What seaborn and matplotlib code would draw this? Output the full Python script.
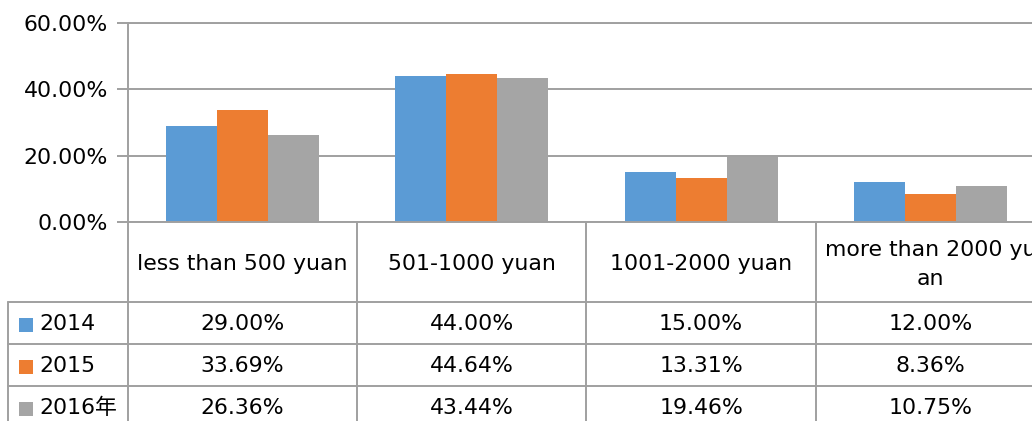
import matplotlib
matplotlib.use("Agg")
import matplotlib.pyplot as plt
import seaborn as sns
import pandas as pd

# Spending brackets, yearly shares (%)
categories = ["less than 500 yuan", "501-1000 yuan", "1001-2000 yuan", "more than 2000 yuan"]
header_labels = ["less than 500 yuan", "501-1000 yuan", "1001-2000 yuan", "more than 2000 yu\nan"]
series = ["2014", "2015", "2016年"]
v2014 = [29.00, 44.00, 15.00, 12.00]
v2015 = [33.69, 44.64, 13.31, 8.36]
v2016 = [26.36, 43.44, 19.46, 10.75]
yticks = [0, 20, 40, 60]
colors = ["#5B9BD5", "#ED7D31", "#A5A5A5"]

values = [v2014, v2015, v2016]
df = pd.DataFrame(
    [(c, s, v) for s, vals in zip(series, values) for c, v in zip(categories, vals)],
    columns=["category", "year", "share"],
)

sns.set_style("white")
plt.rcParams["font.family"] = ["DejaVu Sans", "Noto Sans CJK SC"]
FS = 15.8
LINE = "#a0a0a0"

W, H = 1032, 421
fig = plt.figure(figsize=(W / 100, H / 100), dpi=100)

# plot area in pixel terms: x 128..1045, y 23..222
px_left, px_right, px_top, px_zero = 128, 1045, 23, 222
ax = fig.add_axes([px_left / W, (H - px_zero) / H, (px_right - px_left) / W, (px_zero - px_top) / H])
sns.barplot(data=df, x="category", y="share", hue="year", order=categories,
            hue_order=series, palette=colors, width=0.667, gap=0,
            saturation=1, legend=False, ax=ax, linewidth=0)
ax.set_xlim(-0.5, 3.5)
ax.set_ylim(0, 60)
ax.set_yticks(yticks)
ax.set_yticklabels([f"{t:.2f}%" for t in yticks], fontsize=FS, color="black")
ax.set_xticks([])
ax.set_xlabel("")
ax.set_ylabel("")
ax.yaxis.grid(True, color=LINE, linewidth=1.4)
ax.set_axisbelow(True)
for side in ["left", "bottom", "top"]:
    ax.spines[side].set_visible(True)
    ax.spines[side].set_color(LINE)
    ax.spines[side].set_linewidth(1.4)
ax.spines["right"].set_visible(False)
ax.tick_params(axis="y", which="major", left=True, length=8, width=1.4,
               color=LINE, pad=6.5)

# data table below the plot area, x in category units, y in pixel rows
cat_w = (px_right - px_left) / 4.0
tbl_left_px = 8
x_left = -0.5 - (px_left - tbl_left_px) / cat_w
axt = fig.add_axes([tbl_left_px / W, 0, (px_right - tbl_left_px) / W, (H - px_zero) / H])
axt.set_xlim(x_left, 3.5)
axt.set_ylim(H, px_zero)
axt.axis("off")

row_edges = [302, 344, 386, 428]
for xb in [-0.5, 0.5, 1.5, 2.5, 3.5]:
    axt.plot([xb, xb], [px_zero, 440], color=LINE, lw=1.4, clip_on=False)
axt.plot([x_left, x_left], [row_edges[0], 440], color=LINE, lw=1.4, clip_on=False)
for yb in row_edges:
    axt.plot([x_left, 3.5], [yb, yb], color=LINE, lw=1.4, clip_on=False)

# column headers
for i, lab in enumerate(header_labels):
    axt.text(i, (px_zero + row_edges[0]) / 2 + 2.5, lab, ha="center", va="center",
             fontsize=FS, color="black", linespacing=1.55)

# series rows with colour keys
key_x = -0.5 - (px_left - 25.5) / cat_w
lab_x = -0.5 - (px_left - 39) / cat_w
for r, (name, vals, col) in enumerate(zip(series, values, colors)):
    yc = (row_edges[r] + row_edges[r + 1]) / 2
    axt.scatter([key_x], [yc + 2], marker="s", s=95, color=col, linewidths=0, clip_on=False)
    axt.text(lab_x, yc + 1, name, ha="left", va="center", fontsize=FS, color="black")
    for i, v in enumerate(vals):
        axt.text(i, yc + 1, f"{v:.2f}%", ha="center", va="center", fontsize=FS, color="black")

fig.savefig("out.png", dpi=100)
